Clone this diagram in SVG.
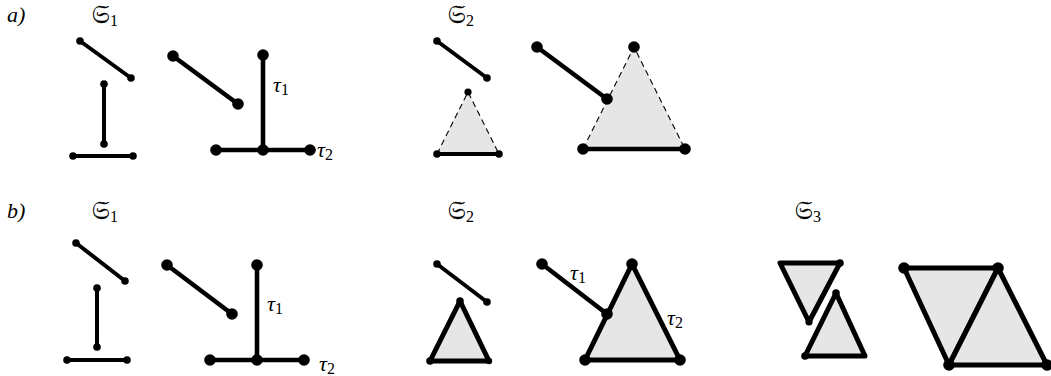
<svg xmlns="http://www.w3.org/2000/svg" width="1051" height="376" viewBox="0 0 1051 376">
<style>
.e{stroke:#000;stroke-width:4;stroke-linecap:round;fill:none}
.eb{stroke:#000;stroke-width:4.6;stroke-linecap:round;fill:none}
.dash{stroke:#000;stroke-width:1.1;stroke-dasharray:6 4;fill:none}
.tri{fill:#e6e6e6;stroke:none}
.tris{fill:#e6e6e6;stroke:#000;stroke-width:5;stroke-linejoin:round}
.d{fill:#000}
</style>
<rect width="1051" height="376" fill="#fff"/>
<g id="labels" font-family="Liberation Serif, DejaVu Serif, serif" font-size="22" fill="#000">
<text x="7" y="22" font-style="italic">a)</text>
<text x="7" y="218" font-style="italic">b)</text>
<g font-family="DejaVu Serif, Noto Sans, serif" font-size="25" stroke="#000" stroke-width="0.4">
<text x="92" y="23">𝔖<tspan font-family="Liberation Serif, serif" font-size="16" stroke="none" dy="3">1</tspan></text>
<text x="448" y="23">𝔖<tspan font-family="Liberation Serif, serif" font-size="16" stroke="none" dy="3">2</tspan></text>
<text x="92" y="219">𝔖<tspan font-family="Liberation Serif, serif" font-size="16" stroke="none" dy="3">1</tspan></text>
<text x="448" y="219">𝔖<tspan font-family="Liberation Serif, serif" font-size="16" stroke="none" dy="3">2</tspan></text>
<text x="795" y="219">𝔖<tspan font-family="Liberation Serif, serif" font-size="16" stroke="none" dy="3">3</tspan></text>
</g>
</g>
<g id="a-S1-small">
<line class="e" x1="80" y1="41" x2="131" y2="78"/>
<line class="e" x1="104" y1="84" x2="104" y2="144"/>
<line class="e" x1="73" y1="156" x2="133" y2="156"/>
<circle class="d" cx="80" cy="41" r="3.8"/><circle class="d" cx="131" cy="78" r="3.8"/>
<circle class="d" cx="104" cy="84" r="3.8"/><circle class="d" cx="104" cy="144" r="3.8"/>
<circle class="d" cx="73" cy="156" r="3.8"/><circle class="d" cx="133" cy="156" r="3.8"/>
</g>
<g id="a-S1-big">
<line class="eb" x1="173" y1="56" x2="238" y2="104"/>
<line class="eb" x1="263" y1="55" x2="263" y2="150"/>
<line class="eb" x1="216" y1="150" x2="310" y2="150"/>
<circle class="d" cx="173" cy="56" r="5.8"/><circle class="d" cx="238" cy="104" r="5.8"/>
<circle class="d" cx="263" cy="55" r="5.8"/><circle class="d" cx="263" cy="150" r="5.8"/>
<circle class="d" cx="216" cy="150" r="5.8"/><circle class="d" cx="310" cy="150" r="5.8"/>
<text x="273" y="92" font-family="Liberation Serif, DejaVu Serif, serif" font-size="22" font-style="italic">τ<tspan font-size="16" font-style="normal" dy="3">1</tspan></text>
<text x="317" y="157" font-family="Liberation Serif, DejaVu Serif, serif" font-size="22" font-style="italic">τ<tspan font-size="16" font-style="normal" dy="3">2</tspan></text>
</g>
<g id="a-S2-small">
<line class="e" x1="437" y1="41" x2="487" y2="78"/>
<polygon class="tri" points="468,92 437,154 499,154"/>
<polyline class="dash" points="437,154 468,92 499,154"/>
<line class="e" x1="437" y1="154" x2="499" y2="154"/>
<circle class="d" cx="437" cy="41" r="3.8"/><circle class="d" cx="487" cy="78" r="3.8"/>
<circle class="d" cx="468" cy="92" r="3.6"/>
<circle class="d" cx="437" cy="154" r="3.8"/><circle class="d" cx="499" cy="154" r="3.8"/>
</g>
<g id="a-S2-big">
<polygon class="tri" points="634,47 583,149 685,149"/>
<polyline class="dash" points="583,149 634,47 685,149"/>
<line class="eb" x1="583" y1="149" x2="685" y2="149"/>
<line class="eb" x1="537" y1="47" x2="607" y2="99"/>
<circle class="d" cx="537" cy="47" r="5.8"/><circle class="d" cx="607" cy="99" r="5.8"/>
<circle class="d" cx="634" cy="47" r="5.8"/>
<circle class="d" cx="583" cy="149" r="5.8"/><circle class="d" cx="685" cy="149" r="5.8"/>
</g>
<g id="b-S1-small">
<line class="e" x1="76" y1="243" x2="125" y2="281"/>
<line class="e" x1="97" y1="288" x2="97" y2="347"/>
<line class="e" x1="67" y1="360" x2="127" y2="360"/>
<circle class="d" cx="76" cy="243" r="3.8"/><circle class="d" cx="125" cy="281" r="3.8"/>
<circle class="d" cx="97" cy="288" r="3.8"/><circle class="d" cx="97" cy="347" r="3.8"/>
<circle class="d" cx="67" cy="360" r="3.8"/><circle class="d" cx="127" cy="360" r="3.8"/>
</g>
<g id="b-S1-big">
<line class="eb" x1="167" y1="265" x2="232" y2="314"/>
<line class="eb" x1="257" y1="265" x2="257" y2="360"/>
<line class="eb" x1="210" y1="360" x2="304" y2="360"/>
<circle class="d" cx="167" cy="265" r="5.8"/><circle class="d" cx="232" cy="314" r="5.8"/>
<circle class="d" cx="257" cy="265" r="5.8"/><circle class="d" cx="257" cy="360" r="5.8"/>
<circle class="d" cx="210" cy="360" r="5.8"/><circle class="d" cx="304" cy="360" r="5.8"/>
<text x="267" y="311" font-family="Liberation Serif, DejaVu Serif, serif" font-size="22" font-style="italic">τ<tspan font-size="16" font-style="normal" dy="3">1</tspan></text>
<text x="319" y="371" font-family="Liberation Serif, DejaVu Serif, serif" font-size="22" font-style="italic">τ<tspan font-size="16" font-style="normal" dy="3">2</tspan></text>
</g>
<g id="b-S2-small">
<line class="e" x1="437" y1="264" x2="487" y2="302"/>
<polygon class="tris" points="460,301 430,361 489,361"/>
<circle class="d" cx="437" cy="264" r="3.8"/><circle class="d" cx="487" cy="302" r="3.8"/>
<circle class="d" cx="460" cy="301" r="3.8"/>
<circle class="d" cx="430" cy="361" r="3.8"/><circle class="d" cx="489" cy="361" r="3.2"/>
</g>
<g id="b-S2-big">
<polygon class="tris" points="632,264 585,360 680,360"/>
<line class="eb" x1="542" y1="264" x2="607" y2="314"/>
<circle class="d" cx="542" cy="264" r="5.8"/><circle class="d" cx="607" cy="314" r="5.8"/>
<circle class="d" cx="632" cy="264" r="5.8"/>
<circle class="d" cx="585" cy="360" r="5.8"/><circle class="d" cx="680" cy="360" r="5.8"/>
<text x="570" y="280" font-family="Liberation Serif, DejaVu Serif, serif" font-size="22" font-style="italic">τ<tspan font-size="16" font-style="normal" dy="3">1</tspan></text>
<text x="667" y="325" font-family="Liberation Serif, DejaVu Serif, serif" font-size="22" font-style="italic">τ<tspan font-size="16" font-style="normal" dy="3">2</tspan></text>
</g>
<g id="b-S3-small">
<polygon class="tris" points="780,263 840,263 809,322"/>
<polygon class="tris" points="836,293 805,356 865,356"/>
<circle class="d" cx="840" cy="263" r="3.8"/><circle class="d" cx="809" cy="322" r="3.6"/>
<circle class="d" cx="836" cy="293" r="3.8"/><circle class="d" cx="805" cy="356" r="3.8"/>
</g>
<g id="b-S3-big">
<polygon class="tris" points="904,268 998,268 949,365"/>
<polygon class="tris" points="998,268 1047,365 949,365"/>
<circle class="d" cx="904" cy="268" r="5.8"/><circle class="d" cx="998" cy="268" r="5.8"/>
<circle class="d" cx="949" cy="365" r="5.8"/><circle class="d" cx="1047" cy="365" r="5.8"/>
</g>
</svg>
